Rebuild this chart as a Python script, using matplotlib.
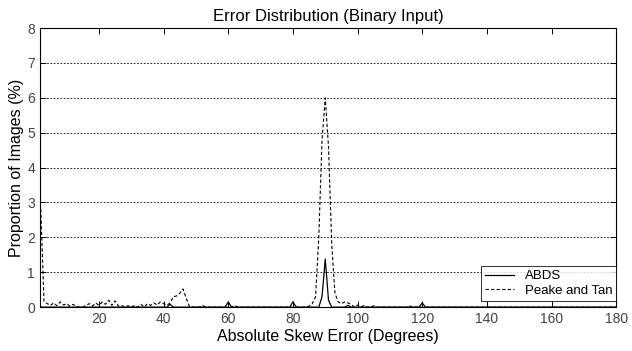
import matplotlib
matplotlib.use("Agg")
import matplotlib.pyplot as plt
import numpy as np

plt.rcParams['font.family'] = ['Liberation Sans', 'DejaVu Sans']

# skew error in degrees, 1 degree bins
deg = np.arange(2, 181)

# Peake and Tan: (degree, percent) for non-zero bins
peake_deg = [2, 3, 4, 5, 6, 7, 8, 9, 10, 11, 12, 13, 16, 17, 18, 19, 20, 21, 22,
             23, 24, 25, 26, 27, 29, 31, 33, 35, 36, 37, 38, 39, 40, 41, 42, 43,
             44, 45, 46, 47, 48, 52, 62, 85, 86, 87, 88, 89, 90, 91, 92, 93, 94,
             95, 96, 97, 98, 100, 102, 105, 116]
peake_val = [2.8, 0.15, 0.1, 0.05, 0.12, 0.04, 0.15, 0.06, 0.1, 0.03, 0.08, 0.02,
             0.05, 0.1, 0.03, 0.12, 0.05, 0.15, 0.08, 0.2, 0.05, 0.18, 0.03, 0.05,
             0.04, 0.05, 0.08, 0.1, 0.05, 0.12, 0.06, 0.15, 0.1, 0.05, 0.12, 0.3,
             0.32, 0.4, 0.52, 0.25, 0.02, 0.05, 0.04, 0.03, 0.1, 0.3, 2.0, 4.8,
             6.0, 4.6, 1.8, 0.4, 0.15, 0.1, 0.15, 0.12, 0.08, 0.06, 0.05, 0.04,
             0.04]

# ABDS: (degree, percent) for non-zero bins
abds_deg = [42, 60, 80, 89, 90, 91, 97, 120]
abds_val = [0.08, 0.15, 0.15, 0.3, 1.38, 0.2, 0.05, 0.12]

peake = np.zeros(len(deg))
peake[np.searchsorted(deg, peake_deg)] = peake_val
abds = np.zeros(len(deg))
abds[np.searchsorted(deg, abds_deg)] = abds_val

fig = plt.figure(figsize=(6.32, 3.51), dpi=100)
ax = fig.add_axes([0.063, 0.125, 0.912, 0.795])

ax.plot(deg, abds, color='black', lw=0.9, label='ABDS')
ax.plot(deg, peake, color='black', lw=0.8, linestyle=(0, (3, 2)), label='Peake and Tan')

ax.set_xlim(1.7, 180)
ax.set_ylim(0, 8)
ax.set_xticks(np.arange(20, 181, 20))
ax.set_yticks(np.arange(0, 9, 1))
ax.yaxis.grid(True, color='black', linestyle=(0, (2, 2)), lw=0.6)
ax.tick_params(direction='in', top=True, right=True, labelsize=10,
               labelcolor='#444444', length=4, width=0.7)
for s in ax.spines.values():
    s.set_linewidth(0.8)

ax.set_title('Error Distribution (Binary Input)', fontsize=12, pad=5)
ax.set_xlabel('Absolute Skew Error (Degrees)', fontsize=11.5, labelpad=2)
ax.set_ylabel('Proportion of Images (%)', fontsize=11.5, labelpad=2)

leg = ax.legend(loc='lower right', bbox_to_anchor=(1.0, 0.022), fontsize=9.5,
                frameon=True, fancybox=False, edgecolor='black', borderaxespad=0,
                handlelength=2.2, borderpad=0.3, labelspacing=0.2)
leg.get_frame().set_linewidth(0.7)

fig.savefig('out.png', dpi=100)
